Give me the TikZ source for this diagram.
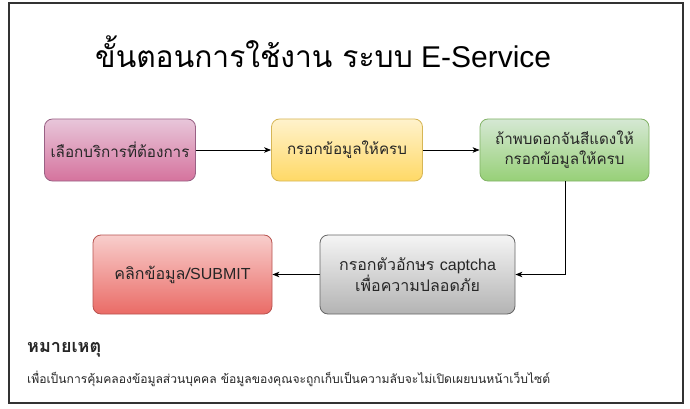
\documentclass[tikz,border=0pt]{standalone}
\usepackage{fontspec}
\setmainfont{Liberation Sans}
\newfontfamily\thai[Script=Thai]{Loma}
\newfontfamily\lat{Liberation Sans}
\usetikzlibrary{arrows.meta}
\definecolor{pinkT}{HTML}{E8C6DA}
\definecolor{pinkB}{HTML}{D5739D}
\definecolor{pinkD}{HTML}{996185}
\definecolor{yelT}{HTML}{FFF2CC}
\definecolor{yelB}{HTML}{FFD966}
\definecolor{yelD}{HTML}{D6B656}
\definecolor{grnT}{HTML}{D5E8D4}
\definecolor{grnB}{HTML}{97D077}
\definecolor{grnD}{HTML}{82B366}
\definecolor{gryT}{HTML}{F5F5F5}
\definecolor{gryB}{HTML}{B3B3B3}
\definecolor{gryD}{HTML}{666666}
\definecolor{redT}{HTML}{F8CECC}
\definecolor{redB}{HTML}{EA6B66}
\definecolor{redD}{HTML}{B85450}
\definecolor{frameC}{HTML}{333333}
\definecolor{txtC}{HTML}{262626}
\tikzset{
  stepbox/.style={draw, rounded corners=8pt, line width=0.8pt, inner sep=0pt,
    align=center, text=txtC, font=\thai\fontsize{15.2}{20}\selectfont},
  flow/.style={draw=black, line width=0.9pt, -{Stealth[length=7pt,width=5.5pt,inset=2pt]}},
}
\begin{document}
\begin{tikzpicture}[x=1pt,y=-1pt]
\useasboundingbox (0,0) rectangle (690,409);
\fill[white] (0,0) rectangle (690,409);
\draw[frameC, line width=1.3pt] (9,3) rectangle (683,403);

\node[anchor=west, text=black, inner sep=0pt] (title) at (95,52)
  {\fontsize{30}{35}\selectfont{\thai ขั้นตอนการใช้งาน ระบบ} {\lat E-Service}};

\node[stepbox, minimum width=151pt, minimum height=62pt, top color=pinkT, bottom color=pinkB, draw=pinkD] (s1) at (120,150) {เลือกบริการที่ต้องการ};
\node[stepbox, minimum width=151pt, minimum height=62pt, top color=yelT, bottom color=yelB, draw=yelD] (s2) at (347,150) {กรอกข้อมูลให้ครบ};
\node[stepbox, minimum width=169pt, minimum height=62pt, top color=grnT, bottom color=grnB, draw=grnD] (s3) at (564.5,150) {ถ้าพบดอกจันสีแดงให้\\กรอกข้อมูลให้ครบ};
\node[stepbox, minimum width=195pt, minimum height=79pt, top color=gryT, bottom color=gryB, draw=gryD, font=\thai\fontsize{16}{21}\selectfont] (s4) at (417.5,274.5) {กรอกตัวอักษร {\lat captcha}\\เพื่อความปลอดภัย};
\node[stepbox, minimum width=179pt, minimum height=79pt, top color=redT, bottom color=redB, draw=redD, font=\thai\fontsize{16}{21}\selectfont] (s5) at (182.5,274.5) {คลิกข้อมูล/{\lat SUBMIT}};

\coordinate (bend) at (565,274.5);
\draw[flow] (s1.east) -- (s2.west);
\draw[flow] (s2.east) -- (s3.west);
\draw[flow] (s3.south -| bend) -- (bend) -- (s4.east);
\draw[flow] (s4.west) -- (s5.west -| s5.east);

\node[anchor=west, inner sep=0pt, text=txtC] (notehead) at (27,350)
  {\thai\bfseries\fontsize{18}{21}\selectfont หมายเหตุ};
\node[anchor=west, inner sep=0pt, text=txtC] (notetext) at (27,379)
  {\thai\fontsize{12.1}{14}\selectfont เพื่อเป็นการคุ้มคลองข้อมูลส่วนบุคคล ข้อมูลของคุณจะถูกเก็บเป็นความลับจะไม่เปิดเผยบนหน้าเว็บไซต์};
\end{tikzpicture}
\end{document}
